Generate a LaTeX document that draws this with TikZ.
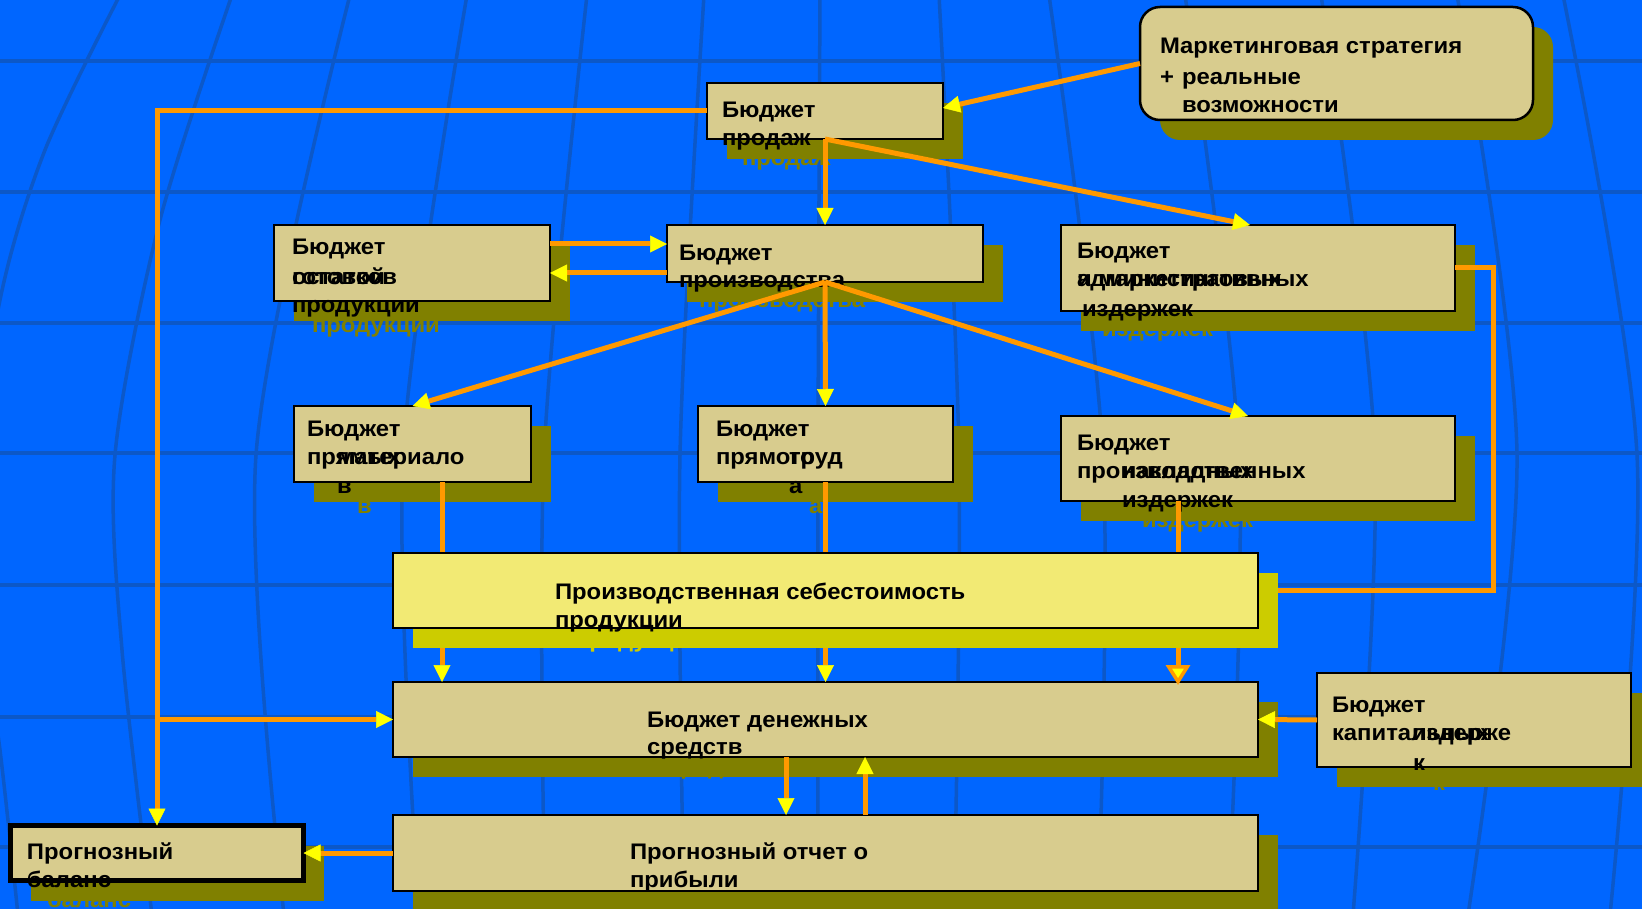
\documentclass[tikz,border=0pt]{standalone}
\usepackage{fontspec}
\setmainfont{Liberation Sans}[FakeStretch=1.06]
\usetikzlibrary{arrows.meta,shadows}

\definecolor{bgblue}{RGB}{0,102,255}
\definecolor{gridblue}{RGB}{12,88,200}
\definecolor{boxc}{RGB}{216,204,142}
\definecolor{olivec}{RGB}{128,128,0}
\definecolor{costc}{RGB}{242,234,116}
\definecolor{costsh}{RGB}{204,204,0}
\definecolor{orangec}{RGB}{255,153,0}
\definecolor{yellowc}{RGB}{255,255,0}

\pgfdeclarelayer{front}
\pgfsetlayers{main,front}

\tikzset{
  gridline/.style={draw=gridblue, line width=3.5pt},
  box/.style={draw=black, line width=2.5pt, fill=boxc, anchor=north west,
    inner sep=0pt, outer sep=0pt},
  sh/.style={drop shadow={shadow xshift=20pt, shadow yshift=-20pt,
    opacity=1, fill=#1, draw=none}},
  txt/.style={anchor=base west, inner sep=0pt, outer sep=0pt,
    font=\bfseries\fontsize{22.5pt}{28pt}\selectfont},
  wire/.style={draw=orangec, line width=5pt},
  tip/.style={-{Triangle[length=17pt,width=17pt,color=yellowc,line width=0.5pt]}},
  bigtip/.style={-{Triangle[length=20pt,width=24pt,fill=yellowc,line width=3.5pt]}}
}

% text lines: shadow copy (offset 20,20) and black copy
\newcounter{lb}
\def\shcol{olivec}
\newcommand\shtxt[3]{\stepcounter{lb}\node[txt,text=\shcol] (s\arabic{lb}) at ({#1+20},{#2+20}) {#3};}
\newcommand\bktxt[3]{\stepcounter{lb}\node[txt] (b\arabic{lb}) at (#1,#2) {#3};}
% box: [options]{name}{x1}{y1}{x2}{y2}
\newcommand\bx[6][]{\node[box,minimum width={#5-#3},minimum height={#6-#4},#1] (#2) at (#3,#4) {};}

% texts of each block
\def\TXmk{\X{1160}{54}{Маркетинговая стратегия}\X{1160}{85}{+}\X{1182}{85}{реальные}\X{1182}{113}{возможности}}
\def\TXsales{\X{722}{118}{Бюджет}\X{722}{146}{продаж}}
\def\TXstock{\X{292}{255}{Бюджет}\X{292}{285}{остатков}\X{292}{285}{готовой}\X{292}{313}{продукции}}
\def\TXprod{\X{679}{261}{Бюджет}\X{679}{288}{производства}}
\def\TXadm{\X{1077}{259}{Бюджет}\X{1077}{287}{административных}\X{1077}{287}{и маркетинговых}\X{1082}{317}{издержек}}
\def\TXmat{\X{307}{436}{Бюджет}\X{307}{464}{прямых}\X{337}{464}{материало}\X{337}{493}{в}}
\def\TXlab{\X{716}{436}{Бюджет}\X{716}{464}{прямого}\X{789}{464}{труд}\X{789}{493}{а}}
\def\TXovh{\X{1077}{450}{Бюджет}\X{1077}{478}{производственных}\X{1122}{478}{накладных}\X{1122}{507}{издержек}}
\def\TXcash{\X{647}{727}{Бюджет денежных}\X{647}{754}{средств}}
\def\TXprof{\X{630}{859}{Прогнозный отчет о}\X{630}{887}{прибыли}}
\def\TXbal{\X{27}{859}{Прогнозный}\X{27}{887}{баланс}}
\def\TXcap{\X{1332}{712}{Бюджет}\X{1332}{740}{капитальных}\X{1412}{740}{издерже}\X{1413}{770}{к}}
\def\TXcost{\X{555}{599}{Производственная себестоимость}\X{555}{627}{продукции}}

\begin{document}
\begin{tikzpicture}[x=1pt,y=-1pt]
\useasboundingbox (0,0) rectangle (1642,909);
\fill[bgblue] (0,0) rectangle (1642,909);

% globe grid: parallels
\foreach \yy in {61,192,323,453,585,717,847}
  \draw[gridline] (-5,\yy) -- (1650,\yy);
% globe grid: meridians
\draw[gridline] plot[smooth] coordinates {(120,-5) (45,150) (0,300) (-30,520) (0,750) (18,915)};
\draw[gridline] plot[smooth] coordinates {(232,-5) (160,220) (115,455) (122,650) (152,915)};
\draw[gridline] plot[smooth] coordinates {(350,-5) (256,455) (284,915)};
\draw[gridline] plot[smooth] coordinates {(467,-5) (403,455) (419,915)};
\draw[gridline] plot[smooth] coordinates {(587,-5) (544,455) (545,915)};
\draw[gridline] plot[smooth] coordinates {(704,-5) (680,455) (684,915)};
\draw[gridline] plot[smooth] coordinates {(820,-5) (818,455) (818,915)};
\draw[gridline] plot[smooth] coordinates {(939,-5) (959,455) (954,915)};
\draw[gridline] plot[smooth] coordinates {(1049,-5) (1103,455) (1098,915)};
\draw[gridline] plot[smooth] coordinates {(1185,-5) (1239,455) (1228,915)};
\draw[gridline] plot[smooth] coordinates {(1321,-5) (1375,455) (1353,915)};
\draw[gridline] plot[smooth] coordinates {(1457,-5) (1517,455) (1468,915)};
\draw[gridline] plot[smooth] coordinates {(1563,-5) (1637,455) (1610,915)};

% shadow copies of the texts
\let\X\shtxt
\TXmk\TXsales\TXstock\TXprod\TXadm\TXmat\TXlab\TXovh\TXcash\TXprof\TXbal\TXcap

% blocks
\bx[sh=olivec, rounded corners=20pt]{mk}{1140}{7}{1533}{120}
\bx[sh=olivec]{sales}{707}{83}{943}{139}
\bx[sh=olivec]{stock}{274}{225}{550}{301}
\bx[sh=olivec]{prod}{667}{225}{983}{282}
\bx[sh=olivec]{adm}{1061}{225}{1455}{311}
\bx[sh=olivec]{mat}{294}{406}{531}{482}
\bx[sh=olivec]{lab}{698}{406}{953}{482}
\bx[sh=olivec]{ovh}{1061}{416}{1455}{501}
\bx[sh=olivec]{cash}{393}{682}{1258}{757}
\bx[sh=olivec]{prof}{393}{815}{1258}{891}
\bx[sh=olivec, line width=5.5pt]{bal}{10.5}{825.5}{303.5}{880.5}
\bx[sh=olivec]{cap}{1317}{673}{1631}{767}

% black texts
\let\X\bktxt
\TXmk\TXsales\TXstock\TXprod\TXadm\TXmat\TXlab\TXovh\TXcash\TXprof\TXbal\TXcap

% production cost block lies above the wires that pass beneath it
\begin{pgfonlayer}{front}
  \def\shcol{costsh}
  \let\X\shtxt \TXcost
  \bx[sh=costsh, fill=costc]{cost}{393}{553}{1258}{628}
  \let\X\bktxt \TXcost
\end{pgfonlayer}

% connectors
\draw[wire,tip] (mk.west) -- ([yshift=3pt]sales.east);
\draw[wire,tip] (sales.west) -| (bal.north);
\draw[wire,tip] (bal.north |- cash.west) -- (cash.west);
\draw[wire,tip] (sales.south) -- (prod.north);
\draw[wire,tip] (sales.south) -- ([xshift=-8pt]adm.north);
\draw[wire,tip] ([yshift=19pt]stock.east) -- ([yshift=9.5pt]prod.west);
\draw[wire,tip] ([yshift=-19.5pt]prod.west) -- ([yshift=-10pt]stock.east);
\draw[wire,tip] (prod.south) -- (mat.north);
\draw[wire,tip] (prod.south) -- (lab.north);
\draw[wire,tip] (prod.south) -- ([xshift=-10pt]ovh.north);
\draw[wire,tip] ([xshift=29.5pt]mat.south) -- ([xshift=-383.5pt]cash.north);
\draw[wire,tip] (lab.south) -- (cash.north);
\draw[wire,bigtip] ([xshift=-80pt]ovh.south) -- ([xshift=352.5pt,yshift=-3pt]cash.north);
\draw[wire] (adm.east) -- ++(38,0) |- (cost.east);
\draw[wire,tip] ([xshift=-39.5pt]cash.south) -- ([xshift=-39.5pt]prof.north);
\draw[wire,tip] ([xshift=39.5pt]prof.north) -- ([xshift=39.5pt]cash.south);
\draw[wire,tip] (prof.west) -- (bal.east);
\draw[wire,tip] (cap.west) -- (cash.east);
\end{tikzpicture}
\end{document}
